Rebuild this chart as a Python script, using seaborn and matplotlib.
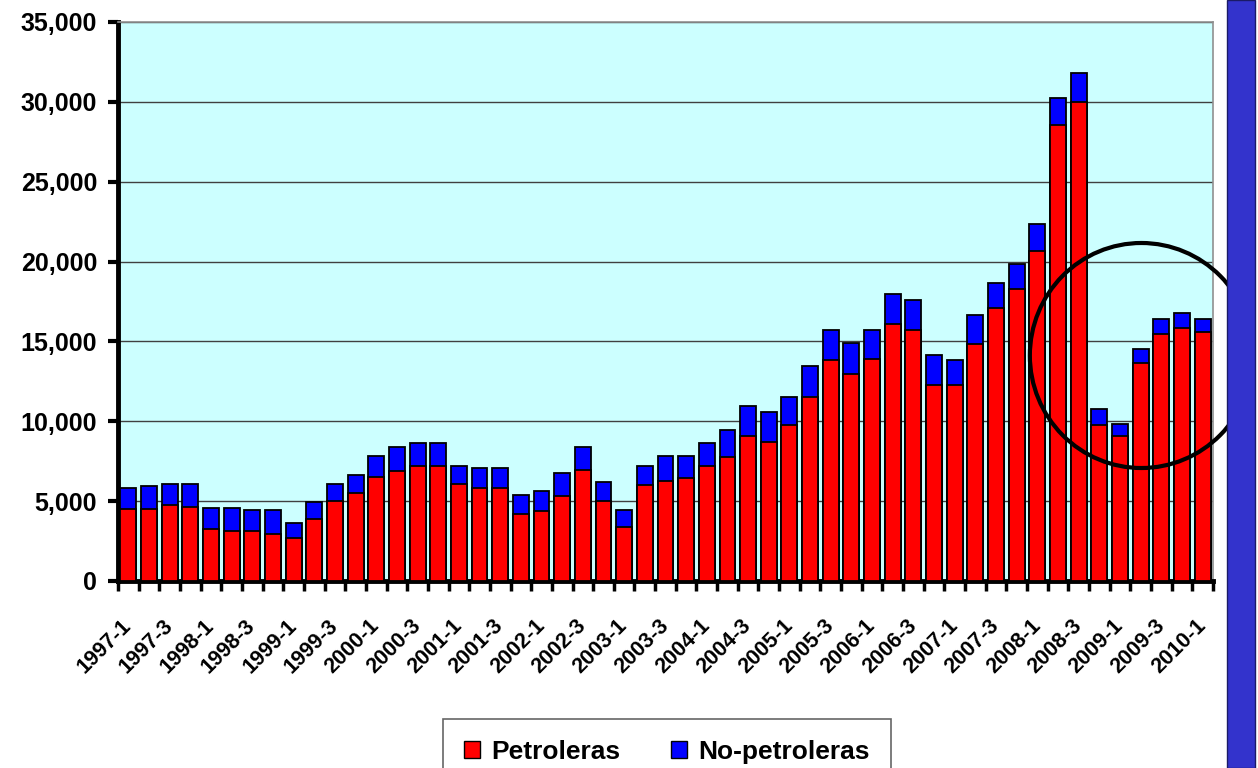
import numpy as np
import pandas as pd
import matplotlib
matplotlib.use('Agg')
import matplotlib.pyplot as plt
import seaborn as sns
from matplotlib.patches import Patch, Rectangle, Ellipse
from matplotlib.ticker import StrMethodFormatter, FixedLocator

# --- datos (trimestres 1997-1 a 2010-1) ---
quarters = [f"{y}-{q}" for y in range(1997, 2011) for q in range(1, 5)][:53]

petroleras = [4530, 4530, 4780, 4650, 3270, 3140, 3140, 2940, 2690, 3860,
              5020, 5490, 6510, 6880, 7200, 7200, 6060, 5840, 5840, 4200,
              4390, 5350, 6980, 5000, 3390, 6040, 6290, 6430, 7200, 7780,
              9060, 8710, 9760, 11530, 13810, 12980, 13910, 16060, 15710, 12300,
              12300, 14830, 17120, 18290, 20640, 28580, 30020, 9780, 9090, 13670,
              15460, 15810, 15580]

no_petroleras = [1310, 1430, 1300, 1430, 1300, 1430, 1310, 1510, 940, 1060,
                 1060, 1160, 1310, 1510, 1430, 1430, 1160, 1260, 1260, 1170,
                 1220, 1410, 1410, 1180, 1040, 1180, 1530, 1390, 1430, 1650,
                 1880, 1880, 1770, 1940, 1900, 1900, 1800, 1900, 1880, 1870,
                 1510, 1810, 1560, 1580, 1680, 1670, 1770, 1000, 730, 870,
                 950, 980, 830]

y_ticks = [0, 5000, 10000, 15000, 20000, 25000, 30000, 35000]

df = pd.DataFrame({'Trimestre': quarters,
                   'Petroleras': petroleras,
                   'No-petroleras': no_petroleras})
df['Total'] = df['Petroleras'] + df['No-petroleras']

plt.rcParams['font.family'] = ['Liberation Sans', 'DejaVu Sans']
plt.rcParams['font.weight'] = 'bold'

fig = plt.figure(figsize=(12.58, 7.68), dpi=100)
ax = fig.add_axes([0.0938, 0.2435, 0.8704, 0.7279])
ax.set_facecolor('#CCFFFF')

# barras apiladas: total en azul, petroleras encima en rojo
sns.barplot(data=df, x='Trimestre', y='Total', color='#0000FF', saturation=1,
            width=0.77, edgecolor='black', linewidth=1.3, ax=ax, zorder=3)
sns.barplot(data=df, x='Trimestre', y='Petroleras', color='#FF0000', saturation=1,
            width=0.77, edgecolor='black', linewidth=1.3, ax=ax, zorder=3)

ax.set_xlabel('')
ax.set_ylabel('')
ax.set_xlim(-0.5, len(quarters) - 0.5)
ax.set_ylim(0, 35000)

ax.set_yticks(y_ticks)
ax.yaxis.set_major_formatter(StrMethodFormatter('{x:,.0f}'))
ax.tick_params(axis='y', direction='out', length=7, width=3, labelsize=18, pad=8)
ax.grid(axis='y', color='#404040', linewidth=1, zorder=0)
ax.set_axisbelow(True)

# etiquetas cada dos trimestres, marcas en los limites de cada barra
ax.set_xticks(range(0, len(quarters), 2))
ax.set_xticklabels(quarters[::2], rotation=45, ha='right', va='center',
                   rotation_mode='anchor', fontsize=15.5, fontweight='bold')
ax.tick_params(axis='x', which='major', length=0, pad=30)
ax.xaxis.set_minor_locator(FixedLocator(np.arange(-0.5, len(quarters), 1)))
ax.tick_params(axis='x', which='minor', direction='out', length=7, width=2.5)

for s in ['left', 'bottom']:
    ax.spines[s].set_linewidth(3.5)
    ax.spines[s].set_color('black')
for s in ['top', 'right']:
    ax.spines[s].set_linewidth(1.2)
    ax.spines[s].set_color('#909090')

# leyenda
handles = [Patch(facecolor='#FF0000', edgecolor='black', label='Petroleras'),
           Patch(facecolor='#0000FF', edgecolor='black', label='No-petroleras')]
leg = fig.legend(handles=handles, loc='upper left', bbox_to_anchor=(0.352, 0.064),
                 ncol=2, prop={'weight': 'bold', 'size': 19},
                 frameon=True, fancybox=False, shadow=False, borderaxespad=0,
                 handlelength=0.6, handleheight=0.65, handletextpad=0.45,
                 columnspacing=1.9, borderpad=0.8)
leg.get_frame().set_edgecolor('#404040')
leg.get_frame().set_linewidth(1.2)

# franja azul a la derecha
fig.patches.append(Rectangle((0.9754, 0), 0.0222, 1, transform=fig.transFigure,
                             facecolor='#3333CC', edgecolor='#1a1a66', linewidth=1))

# circulo resaltando 2009
fig.add_artist(Ellipse((0.9073, 0.5371), 0.1773, 0.293, transform=fig.transFigure,
                       fill=False, edgecolor='black', linewidth=3))

fig.savefig('out.png', dpi=100)
